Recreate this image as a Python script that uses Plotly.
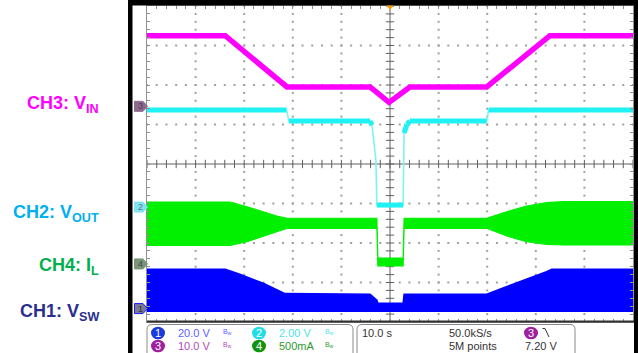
import plotly.graph_objects as go
import numpy as np

W, H = 638, 353

def px(x):
    return x / W

def py(y):
    return 1 - y / H

# ---------------- data (time in s, 10 s/div, trigger at 0) ----------------
vin_t = [-50, -33.9, -21.2, -4.1, -0.2, 4.1, 19.9, 32.9, 50]
vin_v = [17.9, 17.9, 4.9, 4.9, 1.0, 4.9, 4.9, 17.9, 17.9]

vout_t = [-50, -21.3, -20.8, -4.1, -3.7, -2.9, -2.7, 2.7, 2.9, 3.5, 4.1, 19.9, 20.3, 50]
vout_v = [4.91, 4.91, 4.36, 4.36, 4.15, 2.38, 0.10, 0.10, 3.75, 4.20, 4.36, 4.36, 4.91, 4.91]

il_t = [-50, -32.9, -29.4, -26.1, -23.3, -21.2, -2.7, -2.5, 2.7, 2.9, 19.9, 24.0, 28.1, 32.2, 35.6, 50]
il_hi = [0.784, 0.784, 0.724, 0.661, 0.607, 0.578, 0.578, 0.075, 0.075, 0.578, 0.578, 0.661, 0.733, 0.775, 0.788, 0.788]
il_lo = [0.235, 0.235, 0.281, 0.354, 0.408, 0.451, 0.451, -0.026, -0.026, 0.451, 0.451, 0.354, 0.281, 0.248, 0.240, 0.240]

vsw_t = [-50, -33.9, -30.9, -26.1, -21.6, -4.1, -2.7, -2.5, 2.7, 2.9, 19.9, 24.0, 28.1, 32.2, 33.3, 50]
vsw_hi = [19.9, 19.9, 17.4, 12.8, 7.6, 7.3, 4.3, 2.7, 2.7, 7.3, 7.3, 11.1, 14.5, 18.7, 19.9, 19.9]
vsw_lo = [-1.4, -1.4, -1.4, -1.4, -1.4, -1.4, -1.4, -1.6, -1.6, -1.4, -1.4, -1.4, -1.4, -1.4, -1.4, -1.4]

# channel scale (units/div) and ground position (div from centre)
ch_scale = {"1": 20.0, "2": 2.0, "3": 10.0, "4": 0.5}
ch_pos = {"1": -3.66, "2": -1.09, "3": 1.46, "4": -2.53}

ch_labels = ["CH3: V<sub>IN</sub>", "CH2: V<sub>OUT</sub>", "CH4: I<sub>L</sub>", "CH1: V<sub>SW</sub>"]
ch_label_colors = ["#ff00ff", "#00b0f0", "#00b050", "#2a2f8f"]
ch_label_y = [104, 213, 266, 312]

info_left = [("1", "20.0 V", "#1a3ae0", "#6060ff"), ("2", "2.00 V", "#22dde6", "#4fe3e8"),
             ("3", "10.0 V", "#a01fa0", "#b24ab2"), ("4", "500mA", "#129412", "#2e9a2e")]
info_right = ["10.0 s", "50.0kS/s", "5M points", "7.20 V"]


def to_div(vals, ch):
    return [ch_pos[ch] + v / ch_scale[ch] for v in vals]


fig = go.Figure()

# ---------------- graticule dots ----------------
gx, gy = [], []
for xm in range(-40, 50, 10):
    if xm == 0:
        continue
    for k in range(-20, 21):
        gx.append(xm); gy.append(k * 0.2)
for ym in range(-3, 4):
    if ym == 0:
        continue
    for k in range(-25, 26):
        gx.append(k * 2); gy.append(ym)
fig.add_trace(go.Scatter(x=gx, y=gy, mode="markers",
                         marker=dict(symbol="square", size=2, color="#a0a0a0", line=dict(width=0)),
                         hoverinfo="skip", showlegend=False))

# centre cross ticks
cx = [k * 2 for k in range(-25, 26)]
fig.add_trace(go.Scatter(x=cx, y=[0] * len(cx), mode="markers",
                         marker=dict(symbol="line-ns", size=6, line=dict(width=1, color="#606060")),
                         hoverinfo="skip", showlegend=False))
cy = [k * 0.2 for k in range(-20, 21)]
fig.add_trace(go.Scatter(x=[0] * len(cy), y=cy, mode="markers",
                         marker=dict(symbol="line-ew", size=6, line=dict(width=1, color="#606060")),
                         hoverinfo="skip", showlegend=False))

# ---------------- signals ----------------
hi = to_div(vsw_hi, "1"); lo = to_div(vsw_lo, "1")
fig.add_trace(go.Scatter(x=vsw_t + vsw_t[::-1], y=hi + lo[::-1], mode="lines", fill="toself",
                         fillcolor="#0000ff", line=dict(color="#0000ff", width=1.5),
                         hoverinfo="skip", showlegend=False))

hi = to_div(il_hi, "4"); lo = to_div(il_lo, "4")
fig.add_trace(go.Scatter(x=il_t + il_t[::-1], y=hi + lo[::-1], mode="lines", fill="toself",
                         fillcolor="#00f000", line=dict(color="#00f000", width=1.2),
                         hoverinfo="skip", showlegend=False))

# VOUT: thin trace for fast transitions, thick trace for the slow / flat parts
vout_d = to_div(vout_v, "2")
fig.add_trace(go.Scatter(x=vout_t, y=vout_d, mode="lines",
                         line=dict(color="#7ff4f4", width=1.6),
                         hoverinfo="skip", showlegend=False))
tx, ty = [], []
for i in range(len(vout_t) - 1):
    slope = abs(vout_v[i + 1] - vout_v[i]) / max(vout_t[i + 1] - vout_t[i], 1e-9)
    if slope < 0.8:
        tx += [vout_t[i], vout_t[i + 1], None]
        ty += [vout_d[i], vout_d[i + 1], None]
fig.add_trace(go.Scatter(x=tx, y=ty, mode="lines", connectgaps=False,
                         line=dict(color="#1ef2f2", width=5),
                         hoverinfo="skip", showlegend=False))

fig.add_trace(go.Scatter(x=vin_t, y=to_div(vin_v, "3"), mode="lines",
                         line=dict(color="#ff00ff", width=5.5),
                         hoverinfo="skip", showlegend=False))

# ---------------- shapes ----------------
shapes = []
# centre cross lines
shapes.append(dict(type="line", xref="x", yref="y", x0=0, x1=0, y0=-4, y1=4,
                   line=dict(color="#606060", width=1), layer="below"))
shapes.append(dict(type="line", xref="x", yref="y", x0=-50, x1=50, y0=0, y1=0,
                   line=dict(color="#606060", width=1), layer="below"))
# bottom edge of graticule
shapes.append(dict(type="line", xref="paper", yref="paper", x0=px(147), x1=px(636),
                   y0=py(321.5), y1=py(321.5), line=dict(color="#303030", width=2)))
# black bezel
shapes.append(dict(type="rect", xref="paper", yref="paper", x0=px(128), x1=1, y0=py(5.5), y1=1,
                   fillcolor="black", line=dict(width=0)))
shapes.append(dict(type="rect", xref="paper", yref="paper", x0=px(128), x1=px(132.5), y0=0, y1=1,
                   fillcolor="black", line=dict(width=0)))
shapes.append(dict(type="rect", xref="paper", yref="paper", x0=px(634), x1=1, y0=0, y1=1,
                   fillcolor="black", line=dict(width=0)))

# trigger marker (orange) at top
def path(points, close=True):
    s = "M " + " L ".join(f"{px(a):.5f},{py(b):.5f}" for a, b in points)
    return s + (" Z" if close else "")

shapes.append(dict(type="path", xref="paper", yref="paper",
                   path=path([(386.5, 5.5), (393.5, 5.5), (390, 10)]),
                   fillcolor="#ff9a00", line=dict(width=0)))

# ground markers on left
marker_style = {"3": ("#8c6a8c", "#8c6a8c", "#5a3a5a"), "2": ("#7fe4f0", "#7fe4f0", "#5a7a80"),
                "4": ("#7a947a", "#7a947a", "#3a4a3a"), "1": ("#7a7a90", "#1a1aff", "#30304a")}
for ch, (fill, edge, tcol) in marker_style.items():
    yc = 164 - ch_pos[ch] * 39.5
    shapes.append(dict(type="path", xref="paper", yref="paper",
                       path=path([(134.5, yc - 5), (143, yc - 5), (147.5, yc), (143, yc + 5), (134.5, yc + 5)]),
                       fillcolor=fill, line=dict(color=edge, width=1)))

# info panel boxes (rounded)
def rbox(x0, x1, y0, y1, r=5):
    return (f"M {px(x0)},{py(y1)} L {px(x0)},{py(y0 + r)} Q {px(x0)},{py(y0)} {px(x0 + r)},{py(y0)} "
            f"L {px(x1 - r)},{py(y0)} Q {px(x1)},{py(y0)} {px(x1)},{py(y0 + r)} L {px(x1)},{py(y1)}")

shapes.append(dict(type="path", xref="paper", yref="paper", path=rbox(147, 353, 324.5, 365),
                   line=dict(color="#8a8a8a", width=1)))
shapes.append(dict(type="path", xref="paper", yref="paper", path=rbox(357, 575, 324.5, 365),
                   line=dict(color="#8a8a8a", width=1)))

# channel circles
r1, r2 = 333, 346
circ_pos = {"1": (158, r1), "2": (259, r1), "3": (158, r2), "4": (259, r2)}
annotations = []
for num, txt, ccol, tcol in info_left:
    cxp, cyp = circ_pos[num]
    shapes.append(dict(type="circle", xref="paper", yref="paper",
                       x0=px(cxp - 7), x1=px(cxp + 7), y0=py(cyp + 6.3), y1=py(cyp - 6.3),
                       fillcolor=ccol, line=dict(width=0)))
    annotations.append(dict(x=px(cxp), y=py(cyp), xref="paper", yref="paper", text=num,
                            showarrow=False, xanchor="center", yanchor="middle",
                            font=dict(family="Liberation Sans", size=11, color="white")))
    annotations.append(dict(x=px(cxp + 17.5), y=py(cyp), xref="paper", yref="paper", text=txt,
                            showarrow=False, xanchor="left", yanchor="middle",
                            font=dict(family="Liberation Sans", size=11, color=tcol)))
    annotations.append(dict(x=px(cxp + 70), y=py(cyp - 1), xref="paper", yref="paper",
                            text="B<sub>w</sub>", showarrow=False, xanchor="center", yanchor="middle",
                            font=dict(family="Liberation Sans", size=7, color=tcol)))

# trigger source circle in right box
shapes.append(dict(type="circle", xref="paper", yref="paper",
                   x0=px(531 - 7), x1=px(531 + 7), y0=py(r1 + 6.3), y1=py(r1 - 6.3),
                   fillcolor="#a01fa0", line=dict(width=0)))
annotations.append(dict(x=px(531), y=py(r1), xref="paper", yref="paper", text="3",
                        showarrow=False, xanchor="center", yanchor="middle",
                        font=dict(family="Liberation Sans", size=11, color="white")))
shapes.append(dict(type="path", xref="paper", yref="paper",
                   path=path([(542.5, 328.5), (545, 328.5), (549, 337)], close=False),
                   line=dict(color="#333333", width=1)))

right_pos = [(360, r1), (447, r1), (447, r2), (523, r2)]
for txt, (xp, yp) in zip(info_right, right_pos):
    annotations.append(dict(x=px(xp), y=py(yp), xref="paper", yref="paper", text=txt,
                            showarrow=False, xanchor="left", yanchor="middle",
                            font=dict(family="Liberation Sans", size=11, color="#333333")))

# ground marker numbers
for ch, (fill, edge, tcol) in marker_style.items():
    yc = 164 - ch_pos[ch] * 39.5
    annotations.append(dict(x=px(140), y=py(yc), xref="paper", yref="paper", text=ch,
                            showarrow=False, xanchor="center", yanchor="middle",
                            font=dict(family="Liberation Sans", size=9, color=tcol)))

# channel labels left
for txt, col, yp in zip(ch_labels, ch_label_colors, ch_label_y):
    annotations.append(dict(x=px(101), y=py(yp), xref="paper", yref="paper",
                            text=f"<b>{txt}</b>", showarrow=False, xanchor="right", yanchor="middle",
                            font=dict(family="Liberation Sans", size=18, color=col)))

fig.update_layout(
    width=W, height=H, margin=dict(l=0, r=0, t=0, b=0),
    paper_bgcolor="white", plot_bgcolor="white",
    showlegend=False, shapes=shapes, annotations=annotations,
    xaxis=dict(domain=[px(147), px(633)], range=[-50, 50], showgrid=False, zeroline=False,
               showticklabels=False, ticks="inside", ticklen=3, tick0=0, dtick=2,
               tickcolor="#909090", showline=True, linecolor="#909090", linewidth=1, mirror="ticks",
               fixedrange=True),
    yaxis=dict(domain=[py(322), py(6)], range=[-4, 4], showgrid=False, zeroline=False,
               showticklabels=False, ticks="inside", ticklen=3, tick0=0, dtick=0.2,
               tickcolor="#909090", showline=True, linecolor="#909090", linewidth=1, mirror="ticks",
               fixedrange=True),
)

fig.write_html("out.html", config={"displayModeBar": False},
               post_script="document.body.style.margin='0px';document.body.style.overflow='hidden';")
